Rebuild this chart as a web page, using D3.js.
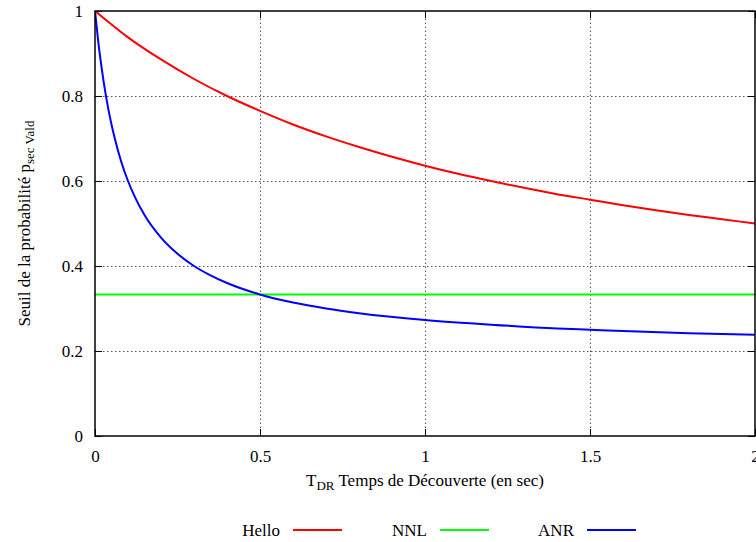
<!DOCTYPE html>
<html>
<head>
<meta charset="utf-8">
<script src="https://cdn.jsdelivr.net/npm/d3@7"></script>
<style>
  body { margin: 0; background: #fff; }
  svg { display: block; }
</style>
</head>
<body>
<svg id="chart" width="756" height="542" font-family="'Liberation Serif', 'Times New Roman', serif"></svg>
<script>
// ---- Data ----
const helloX = [0, 0.1, 0.2, 0.3, 0.4, 0.5, 0.6, 0.7, 0.8, 0.9, 1.0, 1.1, 1.2, 1.3, 1.4, 1.5, 1.6, 1.7, 1.8, 1.9, 2.0];
const helloY = [1.0, 0.938, 0.886, 0.840, 0.800, 0.765, 0.733, 0.705, 0.680, 0.657, 0.636, 0.617, 0.600, 0.584, 0.569, 0.556, 0.543, 0.531, 0.520, 0.510, 0.500];

const nnlX = [0, 2];
const nnlY = [0.333, 0.333];

const anrX = [0, 0.01, 0.02, 0.03, 0.04, 0.05, 0.06, 0.08, 0.1, 0.12, 0.15, 0.2, 0.25, 0.3, 0.35, 0.4, 0.5, 0.6, 0.7, 0.8, 1.0, 1.2, 1.4, 1.5, 1.6, 1.8, 2.0];
const anrY = [1.0, 0.927, 0.867, 0.815, 0.771, 0.733, 0.700, 0.644, 0.600, 0.564, 0.520, 0.467, 0.429, 0.400, 0.378, 0.360, 0.333, 0.314, 0.300, 0.289, 0.273, 0.262, 0.253, 0.250, 0.247, 0.242, 0.238];

const xTicks = [0, 0.5, 1, 1.5, 2];
const xTickLabels = ["0", "0.5", "1", "1.5", "2"];
const yTicks = [0, 0.2, 0.4, 0.6, 0.8, 1];
const yTickLabels = ["0", "0.2", "0.4", "0.6", "0.8", "1"];

const seriesNames = ["Hello", "NNL", "ANR"];
const seriesColors = ["#ff0000", "#00ff00", "#0000ff"];

// ---- Layout ----
const margin = { left: 95, top: 11, right: 1, bottom: 106 };
const W = 756, H = 542;
const svg = d3.select("#chart");
const FONT = "'Liberation Serif', 'DejaVu Serif', serif";

const x = d3.scaleLinear().domain([0, 2]).range([margin.left, W - margin.right]);
const y = d3.scaleLinear().domain([0, 1]).range([H - margin.bottom, margin.top]);

const x0 = x.range()[0], x1 = x.range()[1];
const y0 = y.range()[0], y1 = y.range()[1];

// grid
const grid = svg.append("g").attr("stroke", "#555").attr("stroke-width", 1).attr("stroke-dasharray", "1.5,2.5");
yTicks.filter(v => v > 0 && v < 1).forEach(v => {
  grid.append("line").attr("x1", x0).attr("x2", x1).attr("y1", Math.round(y(v)) + 0.5).attr("y2", Math.round(y(v)) + 0.5);
});
xTicks.filter(v => v > 0 && v < 2).forEach(v => {
  grid.append("line").attr("y1", y0).attr("y2", y1).attr("x1", Math.round(x(v)) + 0.5).attr("x2", Math.round(x(v)) + 0.5);
});

// axes via d3 (inward ticks, mirrored)
const fs = 17;
const axL = svg.append("g").attr("transform", `translate(${x0},0)`)
  .call(d3.axisLeft(y).tickValues(yTicks).tickFormat((d, i) => yTickLabels[i]).tickSize(-7).tickPadding(12));
const axR = svg.append("g").attr("transform", `translate(${x1},0)`)
  .call(d3.axisRight(y).tickValues(yTicks).tickFormat("").tickSize(-7));
const axB = svg.append("g").attr("transform", `translate(0,${y0})`)
  .call(d3.axisBottom(x).tickValues(xTicks).tickFormat((d, i) => xTickLabels[i]).tickSize(-7).tickPadding(14));
const axT = svg.append("g").attr("transform", `translate(0,${y1})`)
  .call(d3.axisTop(x).tickValues(xTicks).tickFormat("").tickSize(-7));
[axL, axR, axB, axT].forEach(a => {
  a.attr("font-family", FONT);
  a.select(".domain").remove();
  a.selectAll("line").attr("stroke", "#000").attr("stroke-width", 1);
  a.selectAll("text").attr("font-size", fs).attr("fill", "#000").attr("font-family", FONT);
});

// curves
const clip = svg.append("clipPath").attr("id", "clip").append("rect")
  .attr("x", x0).attr("y", y1).attr("width", x1 - x0).attr("height", y0 - y1);
const line = d3.line().x(d => x(d[0])).y(d => y(d[1])).curve(d3.curveMonotoneX);
const data = [
  d3.zip(helloX, helloY),
  d3.zip(nnlX, nnlY),
  d3.zip(anrX, anrY)
];
const curves = svg.append("g").attr("clip-path", "url(#clip)");
data.forEach((d, i) => {
  curves.append("path").attr("d", line(d)).attr("fill", "none")
    .attr("stroke", seriesColors[i]).attr("stroke-width", 2);
});

// frame
svg.append("rect").attr("x", x0).attr("y", y1).attr("width", x1 - x0).attr("height", y0 - y1)
  .attr("fill", "none").attr("stroke", "#000").attr("stroke-width", 1.5);

// x title
const xt = svg.append("text").attr("x", (x0 + x1) / 2).attr("y", 486)
  .attr("text-anchor", "middle").attr("font-size", fs).attr("font-family", FONT);
xt.append("tspan").text("T");
xt.append("tspan").attr("font-size", 13).attr("dy", 4).text("DR");
xt.append("tspan").attr("dy", -4).text(" Temps de Découverte (en sec)");

// y title
const yt = svg.append("text").attr("transform", `translate(30,${(y0 + y1) / 2}) rotate(-90)`)
  .attr("text-anchor", "middle").attr("font-size", fs).attr("font-family", FONT);
yt.append("tspan").text("Seuil de la probabilité p");
yt.append("tspan").attr("font-size", 13).attr("dy", 4).text("sec Vald");

// legend
const legEnds = [280, 427, 574];
const lg = svg.append("g");
seriesNames.forEach((name, i) => {
  const ex = legEnds[i];
  lg.append("text").attr("x", ex).attr("y", 536).attr("text-anchor", "end").attr("font-size", fs)
    .attr("font-family", FONT).text(name);
  lg.append("line").attr("x1", ex + 13).attr("x2", ex + 62).attr("y1", 530).attr("y2", 530)
    .attr("stroke", seriesColors[i]).attr("stroke-width", 2);
});
</script>
</body>
</html>
